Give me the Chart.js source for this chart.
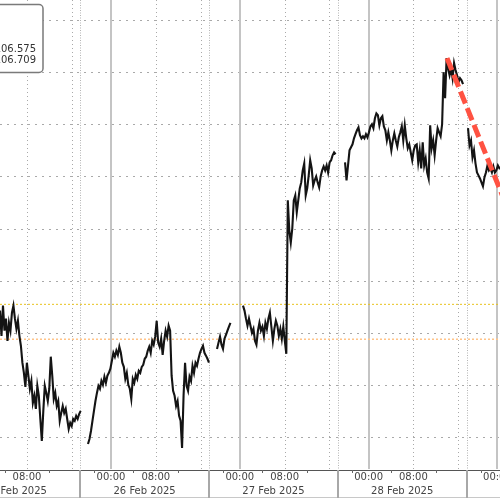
<!DOCTYPE html>
<html>
<head>
<meta charset="utf-8">
<title>DXY intraday</title>
<script src="https://cdn.jsdelivr.net/npm/chart.js@4.4.1/dist/chart.umd.min.js"></script>
<style>
  html, body { margin: 0; padding: 0; background: #fff; }
  #wrap { width: 500px; height: 500px; }
</style>
</head>
<body>
<div id="wrap"><canvas id="dxyChart" width="500" height="500"></canvas></div>
<script>
// x values are axis hours counted from 26 Feb 2025 00:00
// (the chart skips the one-hour break, so one trading day = 23 h on the axis)
const STEP_H = 16 / 60;

// session start times, then the 16-minute prices of each session
const sessionStarts = [-19.82, -4.11, 18.93, 23.57, 41.79, 63.75];

const dxy25Feb = [
  106.685, 106.588, 106.704, 106.608, 106.654, 106.569, 106.638, 106.608, 106.677, 106.704,
  106.654, 106.615, 106.646, 106.588, 106.550, 106.485, 106.446, 106.392, 106.485, 106.435,
  106.385, 106.415, 106.331, 106.358, 106.308, 106.396, 106.358, 106.269, 106.185, 106.300,
  106.396, 106.369, 106.338, 106.385, 106.508, 106.435, 106.346, 106.369, 106.319, 106.338,
  106.262, 106.292, 106.319, 106.292, 106.308, 106.269, 106.231, 106.254, 106.242, 106.269,
  106.262, 106.281, 106.269, 106.288, 106.300
];

const dxy26Feb = [
  106.173, 106.192, 106.223, 106.262, 106.300, 106.338, 106.369, 106.396, 106.385, 106.415,
  106.400, 106.431, 106.408, 106.435, 106.446, 106.462, 106.492, 106.523, 106.508, 106.531,
  106.515, 106.546, 106.523, 106.485, 106.469, 106.423, 106.446, 106.400, 106.385, 106.346,
  106.423, 106.408, 106.438, 106.423, 106.454, 106.446, 106.469, 106.477, 106.500, 106.508,
  106.531, 106.546, 106.523, 106.569, 106.554, 106.585, 106.646, 106.562, 106.546, 106.577,
  106.515, 106.569, 106.608, 106.585, 106.627, 106.608, 106.435, 106.377, 106.358, 106.319,
  106.338, 106.281, 106.262, 106.158, 106.358, 106.485, 106.396, 106.377, 106.431, 106.415,
  106.473, 106.446, 106.485, 106.473, 106.500, 106.523, 106.538, 106.550, 106.523, 106.512,
  106.500, 106.485
];

const dxy27FebOpen = [
  106.538, 106.562, 106.585, 106.554, 106.538, 106.577, 106.592, 106.608, 106.623, 106.638
];

const dxy27Feb = [
  106.704, 106.685, 106.654, 106.627, 106.654, 106.627, 106.600, 106.615, 106.569, 106.554,
  106.608, 106.638, 106.608, 106.623, 106.588, 106.638, 106.615, 106.654, 106.677, 106.623,
  106.569, 106.615, 106.646, 106.627, 106.588, 106.615, 106.577, 106.623, 106.569, 106.519,
  107.108, 106.992, 106.946, 107.000, 107.108, 107.127, 107.062, 107.108, 107.154, 107.177,
  107.223, 107.250, 107.127, 107.154, 107.204, 107.262, 107.231, 107.165, 107.185, 107.200,
  107.177, 107.158, 107.200, 107.223, 107.238, 107.223, 107.242, 107.215, 107.254, 107.262,
  107.281, 107.292, 107.285
];

const dxy28Feb = [
  107.254, 107.185, 107.242, 107.300, 107.312, 107.323, 107.346, 107.362, 107.377, 107.388,
  107.358, 107.346, 107.354, 107.346, 107.362, 107.350, 107.369, 107.392, 107.400, 107.385,
  107.423, 107.442, 107.435, 107.396, 107.423, 107.431, 107.392, 107.377, 107.338, 107.369,
  107.338, 107.300, 107.338, 107.365, 107.338, 107.315, 107.350, 107.369, 107.392, 107.338,
  107.396, 107.346, 107.308, 107.323, 107.292, 107.262, 107.300, 107.319, 107.323, 107.254,
  107.300, 107.231, 107.331, 107.242, 107.269, 107.215, 107.192, 107.396, 107.308, 107.338,
  107.281, 107.338, 107.385, 107.369, 107.354, 107.400, 107.600, 107.500, 107.654, 107.615,
  107.588, 107.615, 107.577, 107.635, 107.608, 107.588, 107.562, 107.577, 107.569, 107.554
];

const dxyLate = [
  107.385, 107.319, 107.338, 107.273, 107.300, 107.250, 107.215, 107.204, 107.192, 107.177,
  107.162, 107.196, 107.215, 107.242, 107.223, 107.231, 107.215, 107.238, 107.215, 107.223,
  107.242, 107.231, 107.235
];

const sessions = [dxy25Feb, dxy26Feb, dxy27FebOpen, dxy27Feb, dxy28Feb, dxyLate];

// reference levels shown in the legend box
const levelValues = [106.575, 106.709];

// red dashed trend line from the 28 Feb high
const trendX = [60.0, 71.25];
const trendY = [107.654, 107.054];

// axis marks
const yGrid = [106.2, 106.4, 106.6, 106.8, 107.0, 107.2, 107.4, 107.6, 107.8];
const dayStarts = [0, 23, 46, 69];
const dottedHours = [-15, -7, 8, 16, 31, 39, 54, 62];
const minorTicks = [-19, -11, -3, 4, 12, 20, 27, 35, 43, 50, 58, 66];
const dateBounds = [-28.5, -5.5, 17.5, 40.5, 63.5, 86.5];
const dateLabels = ['25 Feb 2025', '26 Feb 2025', '27 Feb 2025', '28 Feb 2025', '3 Mar 2025'];
const tickHours = [-15, 0, 8, 23, 31, 46, 54, 69];
const tickLabels = ['08:00', '00:00', '08:00', '00:00', '08:00', '00:00', '08:00', '00:00'];

const X_MIN = -19.82, X_MAX = 69.46;
const Y_MIN = 106.077, Y_MAX = 107.877;

function buildSeries() {
    const pts = [];
    sessions.forEach((values, k) => {
        const start = sessionStarts[k];
        if (k > 0) pts.push({ x: start - 0.1, y: null }); // break between sessions
        values.forEach((v, i) => pts.push({ x: start + i * STEP_H, y: v }));
    });
    return pts;
}

function strokeLine(ctx, x1, y1, x2, y2) {
    ctx.beginPath();
    ctx.moveTo(x1, y1);
    ctx.lineTo(x2, y2);
    ctx.stroke();
}

const FONT = '10px "DejaVu Sans", sans-serif';

const bloombergFrame = {
    id: 'bloombergFrame',
    beforeDatasetsDraw(chart) {
        const { ctx, chartArea: a, scales: { x, y } } = chart;
        ctx.save();
        ctx.lineWidth = 1;

        // horizontal dotted grid
        ctx.strokeStyle = '#a9a9a9';
        ctx.setLineDash([2, 5]);
        yGrid.forEach(v => {
            const py = Math.round(y.getPixelForValue(v)) + 0.5;
            strokeLine(ctx, a.left, py, a.right, py);
        });

        // 08:00 / 16:00 dotted verticals
        ctx.setLineDash([1, 3]);
        dottedHours.forEach(h => {
            const px = Math.round(x.getPixelForValue(h)) + 0.5;
            strokeLine(ctx, px, a.top, px, a.bottom);
        });

        // session boundaries, denser dots
        ctx.setLineDash([1, 1.5]);
        ctx.strokeStyle = '#b5b5b5';
        dateBounds.forEach(h => {
            const px = Math.round(x.getPixelForValue(h)) + 0.5;
            strokeLine(ctx, px, a.top, px, a.bottom);
        });

        // midnight lines
        ctx.setLineDash([]);
        ctx.strokeStyle = '#c4c4c4';
        ctx.lineWidth = 2;
        dayStarts.forEach(h => {
            const px = Math.round(x.getPixelForValue(h));
            strokeLine(ctx, px, a.top, px, a.bottom);
        });
        ctx.restore();
    },
    afterDraw(chart) {
        const { ctx, chartArea: a, scales: { x } } = chart;
        const top = a.bottom + 1;
        const bottom = top + 27;
        ctx.save();

        // axis strip
        ctx.fillStyle = '#fff';
        ctx.fillRect(0, top, chart.width, chart.height - top);
        ctx.lineWidth = 1;
        ctx.strokeStyle = '#555';
        strokeLine(ctx, 0, top + 0.5, chart.width, top + 0.5);
        ctx.strokeStyle = '#c8c8c8';
        strokeLine(ctx, 0, bottom + 0.5, chart.width, bottom + 0.5);

        ctx.strokeStyle = '#666';
        minorTicks.forEach(h => {
            const px = Math.round(x.getPixelForValue(h)) + 0.5;
            strokeLine(ctx, px, top, px, top + 3);
        });

        ctx.strokeStyle = '#a8a8a8';
        ctx.lineWidth = 2;
        dateBounds.forEach(h => {
            const px = Math.round(x.getPixelForValue(h));
            strokeLine(ctx, px, top, px, bottom + 1);
        });

        ctx.font = FONT;
        ctx.fillStyle = '#444';
        ctx.textAlign = 'center';
        ctx.textBaseline = 'middle';
        tickHours.forEach((h, i) => {
            ctx.fillText(tickLabels[i], x.getPixelForValue(h), top + 7.5);
        });
        dateLabels.forEach((lbl, i) => {
            const mid = (dateBounds[i] + dateBounds[i + 1]) / 2;
            ctx.fillText(lbl, x.getPixelForValue(mid), top + 21.5);
        });

        // legend box in the top-left corner
        ctx.fillStyle = '#fff';
        ctx.strokeStyle = '#7a7a7a';
        ctx.lineWidth = 1.5;
        ctx.beginPath();
        ctx.roundRect(-10, 4.5, 53, 68, 4);
        ctx.fill();
        ctx.stroke();
        ctx.fillStyle = '#333';
        ctx.textAlign = 'right';
        ctx.textBaseline = 'alphabetic';
        ctx.fillText(levelValues[0].toFixed(3), 36, 52);
        ctx.fillText(levelValues[1].toFixed(3), 36, 63);
        ctx.restore();
    }
};

function levelLine(value) {
    return [{ x: X_MIN, y: value }, { x: X_MAX, y: value }];
}

const ctx = document.getElementById('dxyChart').getContext('2d');
new Chart(ctx, {
    type: 'line',
    data: {
        datasets: [
            {
                label: 'Trend',
                data: trendX.map((t, i) => ({ x: t, y: trendY[i] })),
                borderColor: 'rgb(255, 82, 66)',
                borderWidth: 5,
                borderDash: [13, 5],
                borderCapStyle: 'butt',
                pointRadius: 0,
                order: 0
            },
            {
                label: 'DXY',
                data: buildSeries(),
                borderColor: '#141414',
                borderWidth: 2.1,
                borderJoinStyle: 'miter',
                pointRadius: 0,
                tension: 0,
                spanGaps: false,
                order: 1
            },
            {
                label: levelValues[1].toFixed(3),
                data: levelLine(levelValues[1]),
                borderColor: '#e8c21e',
                borderWidth: 1,
                borderDash: [2, 2],
                pointRadius: 0,
                order: 2
            },
            {
                label: levelValues[0].toFixed(3),
                data: levelLine(levelValues[0]),
                borderColor: '#ffc48a',
                borderWidth: 1.5,
                borderDash: [2, 2],
                pointRadius: 0,
                order: 2
            }
        ]
    },
    options: {
        responsive: false,
        animation: false,
        layout: { padding: { left: 0, right: 0, top: 0, bottom: 31 } },
        plugins: {
            legend: { display: false },
            tooltip: { enabled: false }
        },
        scales: {
            x: { type: 'linear', min: X_MIN, max: X_MAX, display: false },
            y: { type: 'linear', min: Y_MIN, max: Y_MAX, display: false }
        }
    },
    plugins: [bloombergFrame]
});
</script>
</body>
</html>
